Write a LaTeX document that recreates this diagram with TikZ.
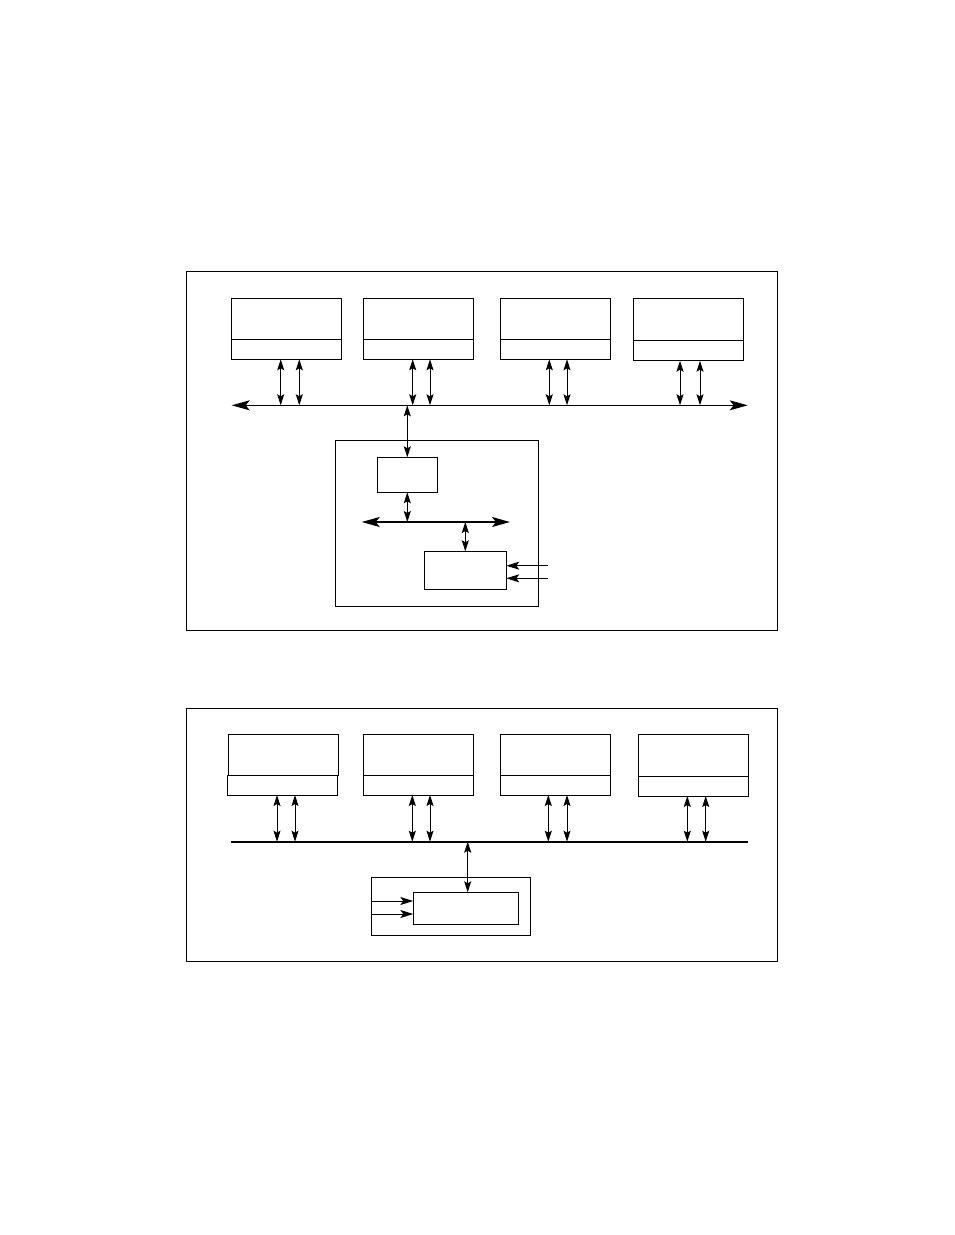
\documentclass[tikz,border=0pt]{standalone}
\usetikzlibrary{arrows.meta}
\begin{document}
\begin{tikzpicture}[x=1pt, y=-1pt, line width=1pt,
        box/.style={draw, rectangle, inner sep=0pt, outer sep=0pt, anchor=north west},
        dbl/.style={{Stealth[length=11pt, width=7pt, inset=2pt]}-{Stealth[length=11pt, width=7pt, inset=2pt]}},
        bigtip/.style={{Stealth[length=18pt, width=10pt, inset=4pt]}-{Stealth[length=18pt, width=10pt, inset=4pt]}},
        intip/.style={-{Stealth[length=13pt, width=8pt, inset=3pt]}}]
    \useasboundingbox (0,0) rectangle (954,1235);

    % upper diagram
    \node[box, minimum width=590.6pt, minimum height=359pt] (frameA) at (186.7,271.3) {};
    \coordinate (busW) at (231.7,405.3);
    \coordinate (busE) at (747.7,405.3);
    \draw[bigtip] (busW) -- (busE);

    \foreach \i/\xx/\dy/\pa/\pb in {1/231.7/0/280.7/299.3, 2/363.3/0/412.7/430,
                                    3/500.7/0/549.3/567, 4/633.3/1.4/680/700} {
        \node[box, minimum width=110pt, minimum height=41pt+\dy pt] (tu\i) at (\xx,298.3) {};
        \node[box, minimum width=110pt, minimum height=20pt] (tl\i) at (\xx,339.3+\dy) {};
        \coordinate (ta\i) at (\pa,405.3);
        \coordinate (tb\i) at (\pb,405.3);
        \draw[dbl] (ta\i |- tl\i.south) -- (ta\i);
        \draw[dbl] (tb\i |- tl\i.south) -- (tb\i);
    }

    \node[box, minimum width=202.6pt, minimum height=165.3pt] (node) at (335.7,440.7) {};
    \node[box, minimum width=60pt, minimum height=35pt] (cache) at (377.3,457.3) {};
    \node[box, minimum width=82pt, minimum height=38pt] (io) at (424.3,551.3) {};
    \coordinate (ibusW) at (361.7,522);
    \coordinate (ibusE) at (510,522);
    \draw[bigtip, line width=2pt] (ibusW) -- (ibusE);

    \draw[dbl] (cache.north |- busW) -- (cache.north);
    \draw[dbl] (cache.south) -- (cache.south |- ibusW);
    \draw[dbl] (io.north |- ibusW) -- (io.north);
    \coordinate (inA) at (548.3,565.7);
    \coordinate (inB) at (548.3,578.3);
    \draw[intip] (inA) -- (inA -| io.east);
    \draw[intip] (inB) -- (inB -| io.east);

    % lower diagram
    \node[box, minimum width=590.6pt, minimum height=253pt] (frameB) at (186.7,708.3) {};
    \coordinate (bbusW) at (231,841.7);
    \coordinate (bbusE) at (748.3,841.7);
    \draw[line width=2pt] (bbusW) -- (bbusE);

    \foreach \i/\ux/\lx/\dy/\pa/\pb in {1/228.3/227.3/0/277/295, 2/363.3/363.3/0/412.3/430,
                                        3/500.7/500.7/0/548.3/567, 4/638.3/638.3/1/687.3/705.7} {
        \node[box, minimum width=110pt, minimum height=41.4pt+\dy pt] (bu\i) at (\ux,734.3) {};
        \node[box, minimum width=110pt, minimum height=19.3pt] (bl\i) at (\lx,775.7+\dy) {};
        \coordinate (ba\i) at (\pa,841.7);
        \coordinate (bb\i) at (\pb,841.7);
        \draw[dbl] (ba\i |- bl\i.south) -- (ba\i);
        \draw[dbl] (bb\i |- bl\i.south) -- (bb\i);
    }

    \node[box, minimum width=159pt, minimum height=57.7pt] (port) at (371.7,877.3) {};
    \node[box, minimum width=105pt, minimum height=32pt] (ctl) at (413.3,892.3) {};
    \coordinate (bv) at (467.7,841.7);
    \draw[dbl] (bv) -- (bv |- ctl.north);
    \coordinate (inC) at (371.7,901);
    \coordinate (inD) at (371.7,914);
    \draw[intip] (inC) -- (inC -| ctl.west);
    \draw[intip] (inD) -- (inD -| ctl.west);
\end{tikzpicture}
\end{document}
